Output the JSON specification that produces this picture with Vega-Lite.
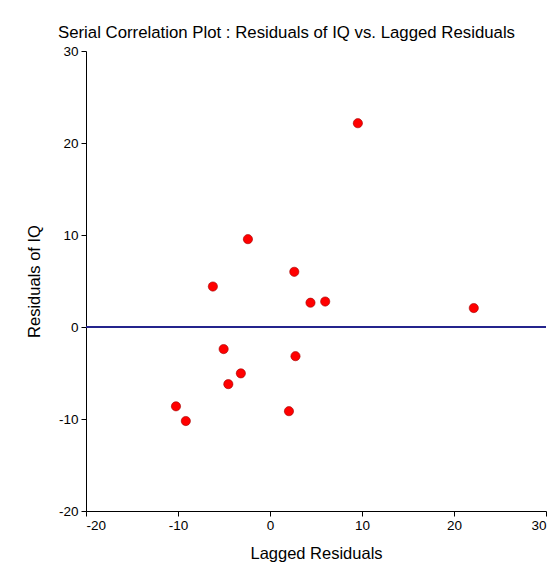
{
  "$schema": "https://vega.github.io/schema/vega-lite/v6.json",
  "width": 460,
  "height": 460,
  "autosize": "none",
  "padding": {"left": 86, "top": 51, "right": 10, "bottom": 65},
  "background": "white",
  "title": {
    "text": "Serial Correlation Plot : Residuals of IQ vs. Lagged Residuals",
    "font": "Liberation Sans",
    "fontSize": 16.8,
    "fontWeight": "normal",
    "color": "#000000",
    "anchor": "middle",
    "frame": "bounds",
    "offset": 2
  },
  "config": {
    "view": {"stroke": null},
    "axis": {
      "grid": false,
      "domainColor": "#000000",
      "tickColor": "#000000",
      "tickSize": 5,
      "labelFont": "Liberation Sans",
      "labelFontSize": 13.5,
      "labelColor": "#000000",
      "labelExpr": "datum.value",
      "titleFont": "Liberation Sans",
      "titleFontSize": 16.5,
      "titleFontWeight": "normal",
      "titleColor": "#000000"
    }
  },
  "data": {
    "values": [
      {"lagged": -4.53, "resid": -6.21},
      {"lagged": -6.21, "resid": 4.4},
      {"lagged": 4.4, "resid": 2.64},
      {"lagged": 2.64, "resid": 6.0},
      {"lagged": 6.0, "resid": 2.77},
      {"lagged": 2.77, "resid": -3.17},
      {"lagged": -3.17, "resid": -5.04},
      {"lagged": -5.04, "resid": -2.4},
      {"lagged": -2.4, "resid": 9.55},
      {"lagged": 9.55, "resid": 22.15},
      {"lagged": 22.15, "resid": 2.06},
      {"lagged": 2.06, "resid": -9.15},
      {"lagged": -9.15, "resid": -10.22},
      {"lagged": -10.22, "resid": -8.62}
    ]
  },
  "layer": [
    {
      "mark": {"type": "rule", "color": "#24248c", "strokeWidth": 1},
      "encoding": {"y": {"datum": 0, "type": "quantitative"}}
    },
    {
      "mark": {"type": "point", "shape": "circle", "filled": true, "size": 85, "fill": "#ff0000", "stroke": "#a00000", "strokeWidth": 0.6, "opacity": 1},
      "encoding": {
        "x": {
          "field": "lagged",
          "type": "quantitative",
          "title": "Lagged Residuals",
          "scale": {"domain": [-20, 30], "nice": false, "zero": false},
          "axis": {"values": [-20, -10, 0, 10, 20, 30], "titlePadding": 14, "labelPadding": 2}
        },
        "y": {
          "field": "resid",
          "type": "quantitative",
          "title": "Residuals of IQ",
          "scale": {"domain": [-20, 30], "nice": false, "zero": false},
          "axis": {"values": [-20, -10, 0, 10, 20, 30], "titlePadding": 16, "labelPadding": 3}
        }
      }
    }
  ]
}
